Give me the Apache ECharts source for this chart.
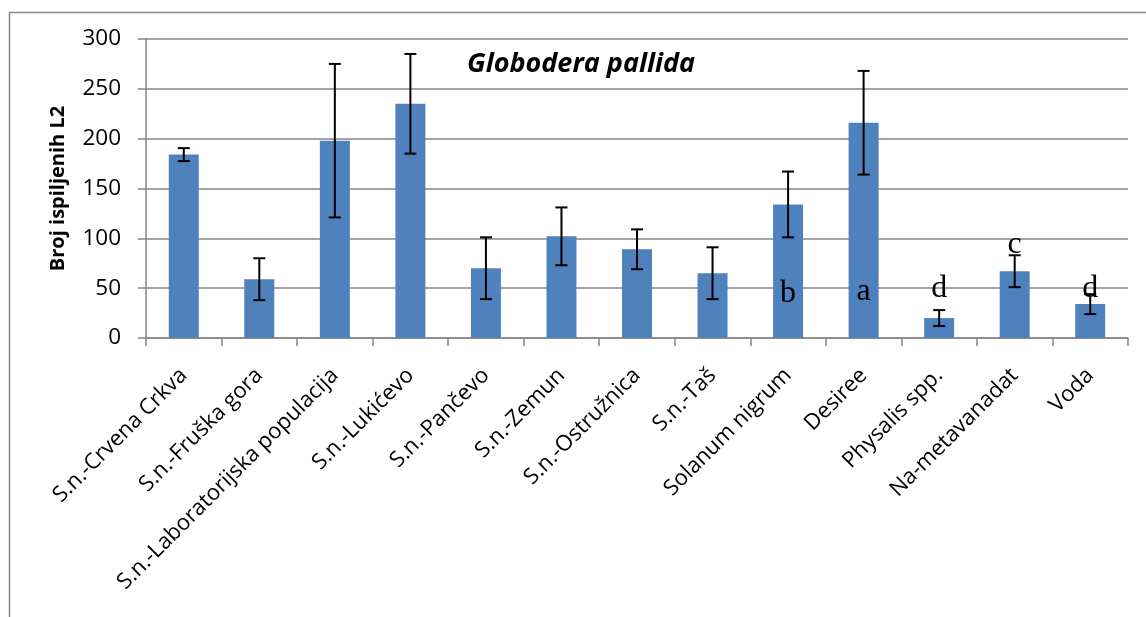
<!DOCTYPE html>
<html>
<head>
<meta charset="utf-8">
<script src="https://cdn.jsdelivr.net/npm/echarts@6/dist/echarts.min.js"></script>
<style>html,body{margin:0;padding:0;background:#fff}#c{width:1146px;height:617px}</style>
</head>
<body>
<div id="c"></div>
<script>
const categories = ['S.n.-Crvena Crkva','S.n.-Fruška gora','S.n.-Laboratorijska populacija','S.n.-Lukićevo','S.n.-Pančevo','S.n.-Zemun','S.n.-Ostružnica','S.n.-Taš','Solanum nigrum','Desiree','Physalis spp.','Na-metavanadat','Voda'];
const means = [184, 59, 198, 235, 70, 102, 89, 65, 134, 216, 20, 67, 34];
const errors = [6.5, 21, 77, 50, 31, 29, 20, 26, 33, 52, 8, 16, 10];
const letters = ['', '', '', '', '', '', '', '', 'b', 'a', 'd', 'c', 'd'];
const letterLevels = [null, null, null, null, null, null, null, null, 45, 47, 49.5, 94, 49.5];
const yTicks = {min: 0, max: 300, interval: 50};
const titleText = 'Globodera pallida';
const yAxisName = 'Broj ispiljenih L2';

const chart = echarts.init(document.getElementById('c'), null, {renderer: 'canvas'});
const grey = '#868686';
const font = '"Open Sans"';
const errData = means.map((m, i) => [i, m - errors[i], m + errors[i]]);
const letterData = letters.map((l, i) => [i, letterLevels[i], l]).filter(d => d[1] !== null);

chart.setOption({
  animation: false,
  backgroundColor: '#fff',
  graphic: [{
    type: 'rect', left: 7, top: 10, shape: {width: 1160, height: 700},
    style: {fill: 'none', stroke: grey, lineWidth: 1.5}, z: -1
  }, {
    type: 'text', x: 467, y: 64,
    style: {text: titleText, font: 'italic bold 27px "Open Sans"', fill: '#000', verticalAlign: 'middle'}
  }],
  grid: {left: 146, right: 18, top: 39, bottom: 279},
  xAxis: {
    type: 'category', data: categories,
    axisLine: {lineStyle: {color: grey, width: 1.5}},
    axisTick: {show: true, length: 8, alignWithLabel: false, lineStyle: {color: grey, width: 1.5}},
    axisLabel: {interval: 0, rotate: 45, fontFamily: font, fontSize: 22, color: '#000', margin: 34}
  },
  yAxis: {
    type: 'value', min: yTicks.min, max: yTicks.max, interval: yTicks.interval,
    name: yAxisName, nameLocation: 'middle', nameGap: 78,
    nameTextStyle: {fontFamily: font, fontWeight: 'bold', fontSize: 20, color: '#000'},
    axisLine: {show: true, lineStyle: {color: grey, width: 1.5}},
    axisTick: {show: true, length: 8, lineStyle: {color: grey, width: 1.5}},
    axisLabel: {fontFamily: font, fontSize: 22.5, color: '#000', margin: 25},
    splitLine: {lineStyle: {color: grey, width: 1.5}}
  },
  series: [{
    type: 'bar', data: means, barWidth: 30,
    itemStyle: {color: '#4F81BD'}, z: 2
  }, {
    type: 'custom', data: errData, z: 3,
    renderItem: function (params, api) {
      const x = api.value(0);
      const lo = api.coord([x, api.value(1)]);
      const hi = api.coord([x, api.value(2)]);
      const w = 6;
      const st = {stroke: '#000', lineWidth: 2};
      return {type: 'group', children: [
        {type: 'line', shape: {x1: hi[0], y1: hi[1], x2: lo[0], y2: lo[1]}, style: st},
        {type: 'line', shape: {x1: hi[0] - w, y1: hi[1], x2: hi[0] + w, y2: hi[1]}, style: st},
        {type: 'line', shape: {x1: lo[0] - w, y1: lo[1], x2: lo[0] + w, y2: lo[1]}, style: st}
      ]};
    }
  }, {
    type: 'custom', data: letterData, z: 4,
    renderItem: function (params, api) {
      const p = api.coord([api.value(0), api.value(1)]);
      return {type: 'text', x: p[0], y: p[1],
        style: {text: letterData[params.dataIndex][2], font: '32px "Liberation Serif"', fill: '#000', align: 'center', verticalAlign: 'middle'}};
    }
  }]
});
</script>
</body>
</html>
